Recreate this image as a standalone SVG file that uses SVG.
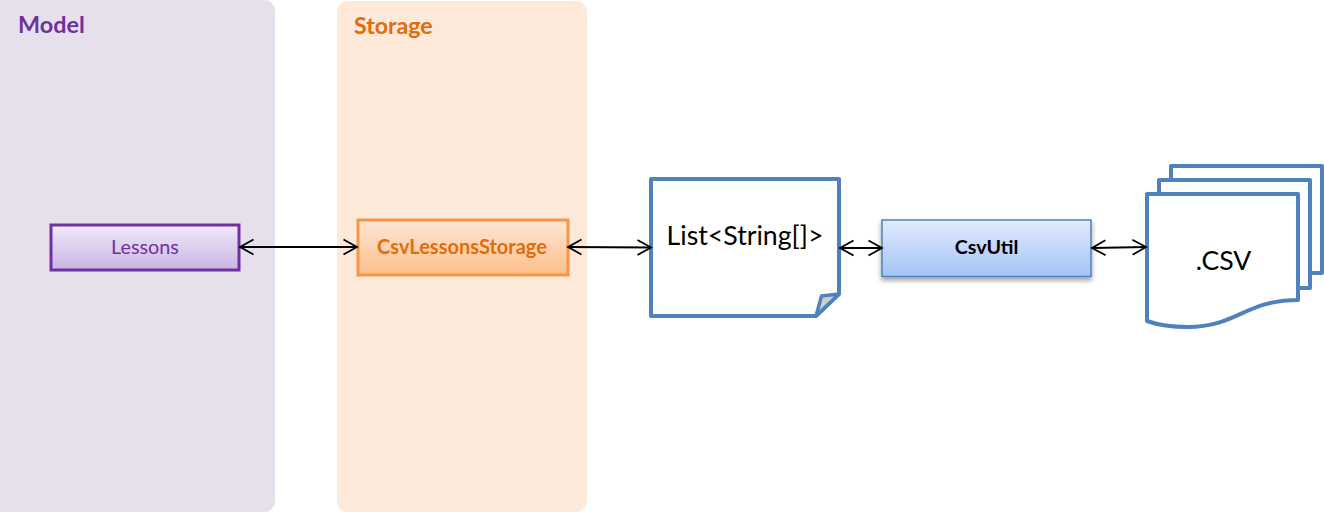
<svg xmlns="http://www.w3.org/2000/svg" width="1324" height="512" viewBox="0 0 1324 512">
<style>
text{font-family:"Lato","Noto Sans","Liberation Sans",sans-serif}
.doc{fill:#fff;stroke:#4f81bd;stroke-width:4;stroke-linejoin:round}
.conn{fill:none;stroke:#000;stroke-width:1.800;marker-start:url(#a);marker-end:url(#b)}
.lab{text-anchor:middle}
</style>
<defs>
<marker id="b" markerUnits="userSpaceOnUse" markerWidth="17" markerHeight="20" refX="15" refY="9" orient="auto"><path d="M1.500 1.500L15 9L1.500 16.500" fill="none" stroke="#000" stroke-width="1.800"/></marker>
<marker id="a" markerUnits="userSpaceOnUse" markerWidth="17" markerHeight="20" refX="2" refY="9" orient="auto"><path d="M15.500 1.500L2 9L15.500 16.500" fill="none" stroke="#000" stroke-width="1.800"/></marker>
<linearGradient id="p" x1="0" y1="0" x2="0" y2="1"><stop offset="0" stop-color="#f0eafa"/><stop offset="1" stop-color="#c9b5e4"/></linearGradient>
<linearGradient id="o" x1="0" y1="0" x2="0" y2="1"><stop offset="0" stop-color="#fee6d4"/><stop offset="1" stop-color="#fdbf8c"/></linearGradient>
<linearGradient id="u" x1="0" y1="0" x2="0" y2="1"><stop offset="0" stop-color="#e2ecfd"/><stop offset="1" stop-color="#a3c3f7"/></linearGradient>
<filter id="s" x="-10%" y="-20%" width="120%" height="150%"><feDropShadow dx="0" dy="3" stdDeviation="2.500" flood-color="#000" flood-opacity=".4"/></filter>
</defs>
<g id="model"><rect x="-10" y="0" width="285" height="512" rx="11" fill="#e6e0ec"/><text x="18" y="33" font-size="23.400" font-weight="700" fill="#7030a0">Model</text></g>
<g id="storage"><rect x="337" y="1" width="250" height="511" rx="11" fill="#fde9d9"/><text x="354" y="34" font-size="23.200" font-weight="700" fill="#e46c0a">Storage</text></g>
<g id="lessons"><rect x="51" y="225" width="188" height="45" fill="url(#p)" stroke="#7030a0" stroke-width="3"/><text class="lab" x="145" y="254" font-size="19.800" fill="#7030a0">Lessons</text></g>
<g id="csvlessonsstorage"><rect x="358" y="220" width="210" height="55" fill="url(#o)" stroke="#f79646" stroke-width="3"/><text class="lab" x="462" y="254" font-size="20" font-weight="700" fill="#e46c0a">CsvLessonsStorage</text></g>
<g id="list"><path class="doc" d="M651 179H839V294L816 316H651Z"/><path d="M821.500 296L839 294L816 316Z" fill="#cdcdcd" stroke="#4f81bd" stroke-width="3.500" stroke-linejoin="round"/><text class="lab" x="745" y="245" font-size="26.700" fill="#000">List&lt;String[]&gt;</text></g>
<g id="csvutil"><rect x="882" y="220" width="209" height="56.500" fill="url(#u)" stroke="#4f81bd" stroke-width="1.500" filter="url(#s)"/><text class="lab" x="986.500" y="254" font-size="19.700" font-weight="700" fill="#000">CsvUtil</text></g>
<g id="csv"><path class="doc" d="M1171 166H1322V273H1171Z"/><path class="doc" d="M1159 180H1310V288H1159Z"/><path class="doc" d="M1147 194H1298V300C1245 300 1237 327 1188 327C1170 327 1158 325 1147 321Z"/><text class="lab" x="1223.500" y="270" font-size="26.600" fill="#000">.CSV</text></g>
<g id="connectors">
<path class="conn" d="M240 247H357"/>
<path class="conn" d="M568 247L651 247.500"/>
<path class="conn" d="M840 248H882"/>
<path class="conn" d="M1092 248L1146 247"/>
</g>
</svg>
